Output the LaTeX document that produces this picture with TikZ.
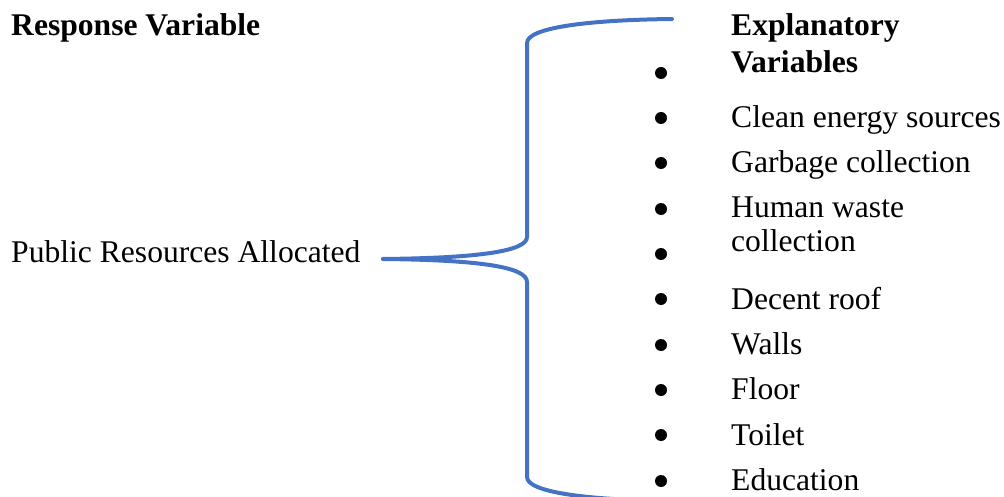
\documentclass[tikz,border=0pt]{standalone}
\usepackage{fontspec}
\setmainfont{Liberation Serif}
\definecolor{braceblue}{HTML}{4472C4}
\tikzset{
  txt/.style={anchor=base west, inner sep=0pt, font=\fontsize{31.6}{38}\selectfont},
  btxt/.style={txt, font=\fontsize{31.6}{38}\selectfont\bfseries},
  bul/.style={circle, fill=black, inner sep=0pt, minimum size=12pt},
  bracestyle/.style={draw=braceblue, line width=4pt, line cap=round, line join=round}
}
\begin{document}
\begin{tikzpicture}[x=1pt,y=-1pt]
\useasboundingbox (0,0) rectangle (1004,497);
\clip (0,0) rectangle (1004,497);
% left texts
\node[btxt] (resp) at (11,36) {Response Variable};
\node[txt] (pub) at (11,262) {Public Resources Allocated};
% explanatory header
\node[btxt] (exp1) at (731,36) {Explanatory};
\node[btxt] (exp2) at (731,72.5) {Variables};
% items
\node[txt] (i1) at (731,127.5) {Clean energy sources};
\node[txt] (i2) at (731,172.5) {Garbage collection};
\node[txt] (i3) at (731,217.5) {Human waste};
\node[txt] (i3b) at (731,251.5) {collection};
\node[txt] (i4) at (731,309.5) {Decent roof};
\node[txt] (i5) at (731,354.5) {Walls};
\node[txt] (i6) at (731,399.5) {Floor};
\node[txt] (i7) at (731,445.5) {Toilet};
\node[txt] (i8) at (731,490.5) {Education};
% bullets
\foreach \y [count=\k] in {73,118,163,209,254,299,345,390,435,481}
  \node[bul] (b\k) at (661,\y) {};
% brace
\coordinate (tt) at (672,19);
\coordinate (tv) at (527,43);
\coordinate (mv1) at (527,237);
\coordinate (cusp) at (383,259);
\coordinate (mv2) at (527,282);
\coordinate (bv) at (527,477);
\coordinate (bb) at (672,501);
\draw[bracestyle] (tt) .. controls (585,20) and (527,28) .. (tv)
  -- (mv1) .. controls (527,251) and (480,258) .. (cusp);
\draw[bracestyle] (cusp) .. controls (480,260) and (527,267) .. (mv2)
  -- (bv) .. controls (527,492) and (585,500) .. (bb);
\end{tikzpicture}
\end{document}
